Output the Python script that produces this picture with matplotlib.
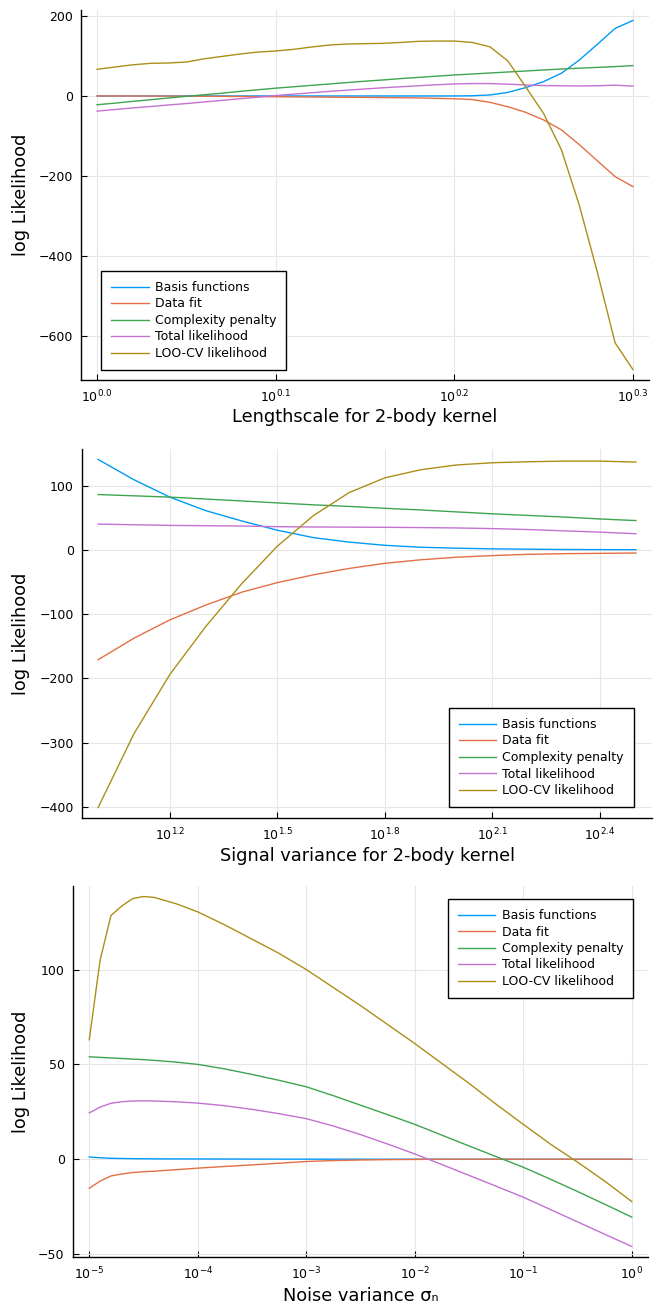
import matplotlib
matplotlib.use("Agg")
import matplotlib.pyplot as plt
import numpy as np

plt.rcParams['font.family'] = ['DejaVu Sans']
plt.rcParams['mathtext.default'] = 'regular'

labels = ["Basis functions", "Data fit", "Complexity penalty", "Total likelihood", "LOO-CV likelihood"]
colors = ["#009AFA", "#E36F47", "#3EA44E", "#C371D2", "#AC8E18"]

# ---- Panel 1: lengthscale (log10 exponents) ----
ls_exp = [0.00, 0.01, 0.02, 0.03, 0.04, 0.05, 0.06, 0.07, 0.08, 0.09, 0.10,
          0.11, 0.12, 0.13, 0.14, 0.15, 0.16, 0.17, 0.18, 0.19, 0.20,
          0.21, 0.22, 0.23, 0.24, 0.25, 0.26, 0.27, 0.28, 0.29, 0.30]
ls_basis = [0, 0, 0, 0, 0, 0, 0, 0, 0, 0, 0,
            0, 0, 0, 0, 0, 0, 0, 0, 0, 0,
            0.5, 2.5, 9, 21, 36, 57, 90, 129, 169, 189]
ls_datafit = [0, 0, -0.1, -0.2, -0.3, -0.5, -0.7, -1.0, -1.3, -1.6, -2,
              -2.3, -2.6, -3, -3.3, -3.6, -4, -4.5, -5, -6, -7,
              -9, -16, -27, -41, -60, -85, -122, -162, -202, -227]
ls_complex = [-22, -18, -13.5, -9.5, -5, -1, 3, 7, 11.5, 15.5, 19.5,
              23, 26.5, 30, 33.5, 37, 40, 43.5, 46.5, 49.5, 52.5,
              55, 57.5, 60, 62.5, 65, 67.5, 69.5, 71.5, 73.5, 76]
ls_total = [-38, -34, -30, -26.5, -22.5, -19, -15, -11, -7, -3, 1,
            4.5, 8, 11.5, 14.5, 17.5, 20.5, 23, 25.5, 28, 30,
            31, 31, 29.5, 27.5, 26, 25.5, 25, 25.5, 27, 24.5]
ls_loo = [66.7, 72.5, 78, 81.7, 82.5, 85, 93, 99, 105, 110, 112.5,
          116.7, 122.5, 127.5, 130, 131, 131.7, 134, 136.7, 137.5, 137.5,
          134, 123, 87.5, 22.5, -44, -135, -274, -440, -618, -685]

# ---- Panel 2: signal variance (log10 exponents) ----
sv_exp = [1.0, 1.1, 1.2, 1.3, 1.4, 1.5, 1.6, 1.7, 1.8, 1.9, 2.0, 2.1, 2.2, 2.3, 2.4, 2.5]
sv_basis = [140.6, 109, 82, 61, 45, 30.5, 19, 12, 7, 4, 2.5, 1.5, 1, 0.5, 0.3, 0.2]
sv_datafit = [-171, -137.5, -109, -86, -66, -51, -39, -29, -21, -15.5, -11.5, -9, -7, -6, -5.5, -5]
sv_complex = [86, 84, 82, 79, 76, 73, 70, 67.5, 64.6, 62, 59, 56, 53.5, 51, 48, 45.5]
sv_total = [40, 39, 38, 37.5, 37, 36, 35.5, 35.3, 35, 34.6, 34, 33, 31.5, 29.5, 27.5, 25]
sv_loo = [-401, -286, -194, -119.5, -53, 5.7, 53, 89, 112, 124.6, 132, 135.5, 137, 138, 138, 136.5]

# ---- Panel 3: noise variance (log10 exponents) ----
nv_exp = [-5, -4.9, -4.8, -4.7, -4.6, -4.5, -4.4, -4.2, -4.0, -3.75, -3.5, -3.25, -3.0,
          -2.75, -2.5, -2.25, -2.0, -1.75, -1.5, -1.25, -1.0, -0.75, -0.5, -0.25, 0]
nv_basis = [1.2, 0.8, 0.5, 0.4, 0.3, 0.25, 0.2, 0.17, 0.15, 0.1, 0.08, 0.06, 0.05,
            0.03, 0.02, 0.01, 0.01, 0, 0, 0, 0, 0, 0, 0, 0]
nv_datafit = [-15.3, -11.5, -8.8, -7.8, -7, -6.6, -6.3, -5.5, -4.7, -3.8, -3, -2.1, -1.2,
              -0.7, -0.4, -0.2, -0.1, 0, 0, 0, 0, 0, 0, 0, 0]
nv_complex = [54, 53.7, 53.4, 53.1, 52.8, 52.5, 52.1, 51.2, 50, 47.6, 44.7, 41.6, 38.2,
              33.5, 28.5, 23.5, 18.4, 12.7, 7, 1.4, -4.2, -10.5, -17, -23.7, -30.5]
nv_total = [24.4, 27.5, 29.5, 30.3, 30.7, 30.8, 30.7, 30.3, 29.6, 28.2, 26.3, 24, 21.4,
            17.5, 13, 8, 2.8, -2.8, -8.5, -14.2, -20, -26.5, -33, -39.5, -46]
nv_loo = [63, 105, 128.5, 133.5, 137.4, 138.5, 138, 134.7, 130.4, 123.5, 116, 108.5, 100,
          90.5, 81, 71, 61, 50.5, 40, 29, 18.4, 8, -1.5, -11.5, -22.3]

ls_xticks = [0.0, 0.1, 0.2, 0.3]
sv_xticks = [1.2, 1.5, 1.8, 2.1, 2.4]
nv_xticks = [-5, -4, -3, -2, -1, 0]
ls_yticks = [-600, -400, -200, 0, 200]
sv_yticks = [-400, -300, -200, -100, 0, 100]
nv_yticks = [-50, 0, 50, 100]

W, H = 657, 1305
fig = plt.figure(figsize=(W / 100, H / 100), dpi=100)


def add_axes(box):
    l, r, t, b = box
    return fig.add_axes([l / W, 1 - b / H, (r - l) / W, (b - t) / H])


def style(ax, box, exp, series, xticks, xtick_fmt, yticks, xlabel, xlab_top):
    l, r, t, b = box
    x = 10.0 ** np.array(exp)
    for s, lab, c in zip(series, labels, colors):
        ax.plot(x, s, color=c, lw=1.0, label=lab)
    ax.set_xscale('log')
    ax.margins(x=0.03, y=0.03)
    ax.set_xticks([10.0 ** v for v in xticks])
    ax.set_xticklabels([xtick_fmt(v) for v in xticks])
    ax.xaxis.set_minor_locator(matplotlib.ticker.NullLocator())
    ax.set_yticks(yticks)
    ax.set_yticklabels([str(v).replace('-', '\u2212') for v in yticks])
    ax.grid(True, color='#e6e6e6', lw=0.8)
    ax.set_axisbelow(True)
    for sp in ['top', 'right']:
        ax.spines[sp].set_visible(False)
    for sp in ['left', 'bottom']:
        ax.spines[sp].set_linewidth(1.0)
    ax.tick_params(direction='in', length=4, width=0.8, labelsize=9, pad=6)
    ax.set_xlabel(xlabel, fontsize=12.8)
    ax.set_ylabel('log Likelihood', fontsize=12.8)
    ax.xaxis.set_label_coords(0.5, -(xlab_top - b) / (b - t))
    ax.yaxis.set_label_coords((30 - l) / (r - l), 0.5)
    return ax


box1 = (81, 649, 10, 380)
box2 = (82, 652, 449, 818)
box3 = (73, 648, 886, 1257)

ax1 = add_axes(box1)
style(ax1, box1, ls_exp, [ls_basis, ls_datafit, ls_complex, ls_total, ls_loo],
      ls_xticks, lambda v: r'$10^{%.1f}$' % v, ls_yticks,
      'Lengthscale for 2-body kernel', 408)
ax2 = add_axes(box2)
style(ax2, box2, sv_exp, [sv_basis, sv_datafit, sv_complex, sv_total, sv_loo],
      sv_xticks, lambda v: r'$10^{%.1f}$' % v, sv_yticks,
      'Signal variance for 2-body kernel', 847)
ax3 = add_axes(box3)
style(ax3, box3, nv_exp, [nv_basis, nv_datafit, nv_complex, nv_total, nv_loo],
      nv_xticks, lambda v: r'$10^{%d}$' % v, nv_yticks,
      'Noise variance \u03c3\u2099', 1287)

leg_kw = dict(fontsize=9, frameon=True, fancybox=False, edgecolor='black', framealpha=1,
              borderaxespad=0, handlelength=3.0, handletextpad=0.5, labelspacing=0.28,
              borderpad=0.8)
lg = ax1.legend(loc='lower left', bbox_to_anchor=(101 / W, 1 - 370 / H), bbox_transform=fig.transFigure, **leg_kw)
lg.get_frame().set_linewidth(1.0)
lg = ax2.legend(loc='lower right', bbox_to_anchor=(634 / W, 1 - 807 / H), bbox_transform=fig.transFigure, **leg_kw)
lg.get_frame().set_linewidth(1.0)
lg = ax3.legend(loc='upper right', bbox_to_anchor=(633 / W, 1 - 899 / H), bbox_transform=fig.transFigure, **leg_kw)
lg.get_frame().set_linewidth(1.0)

fig.savefig('out.png', dpi=100)
